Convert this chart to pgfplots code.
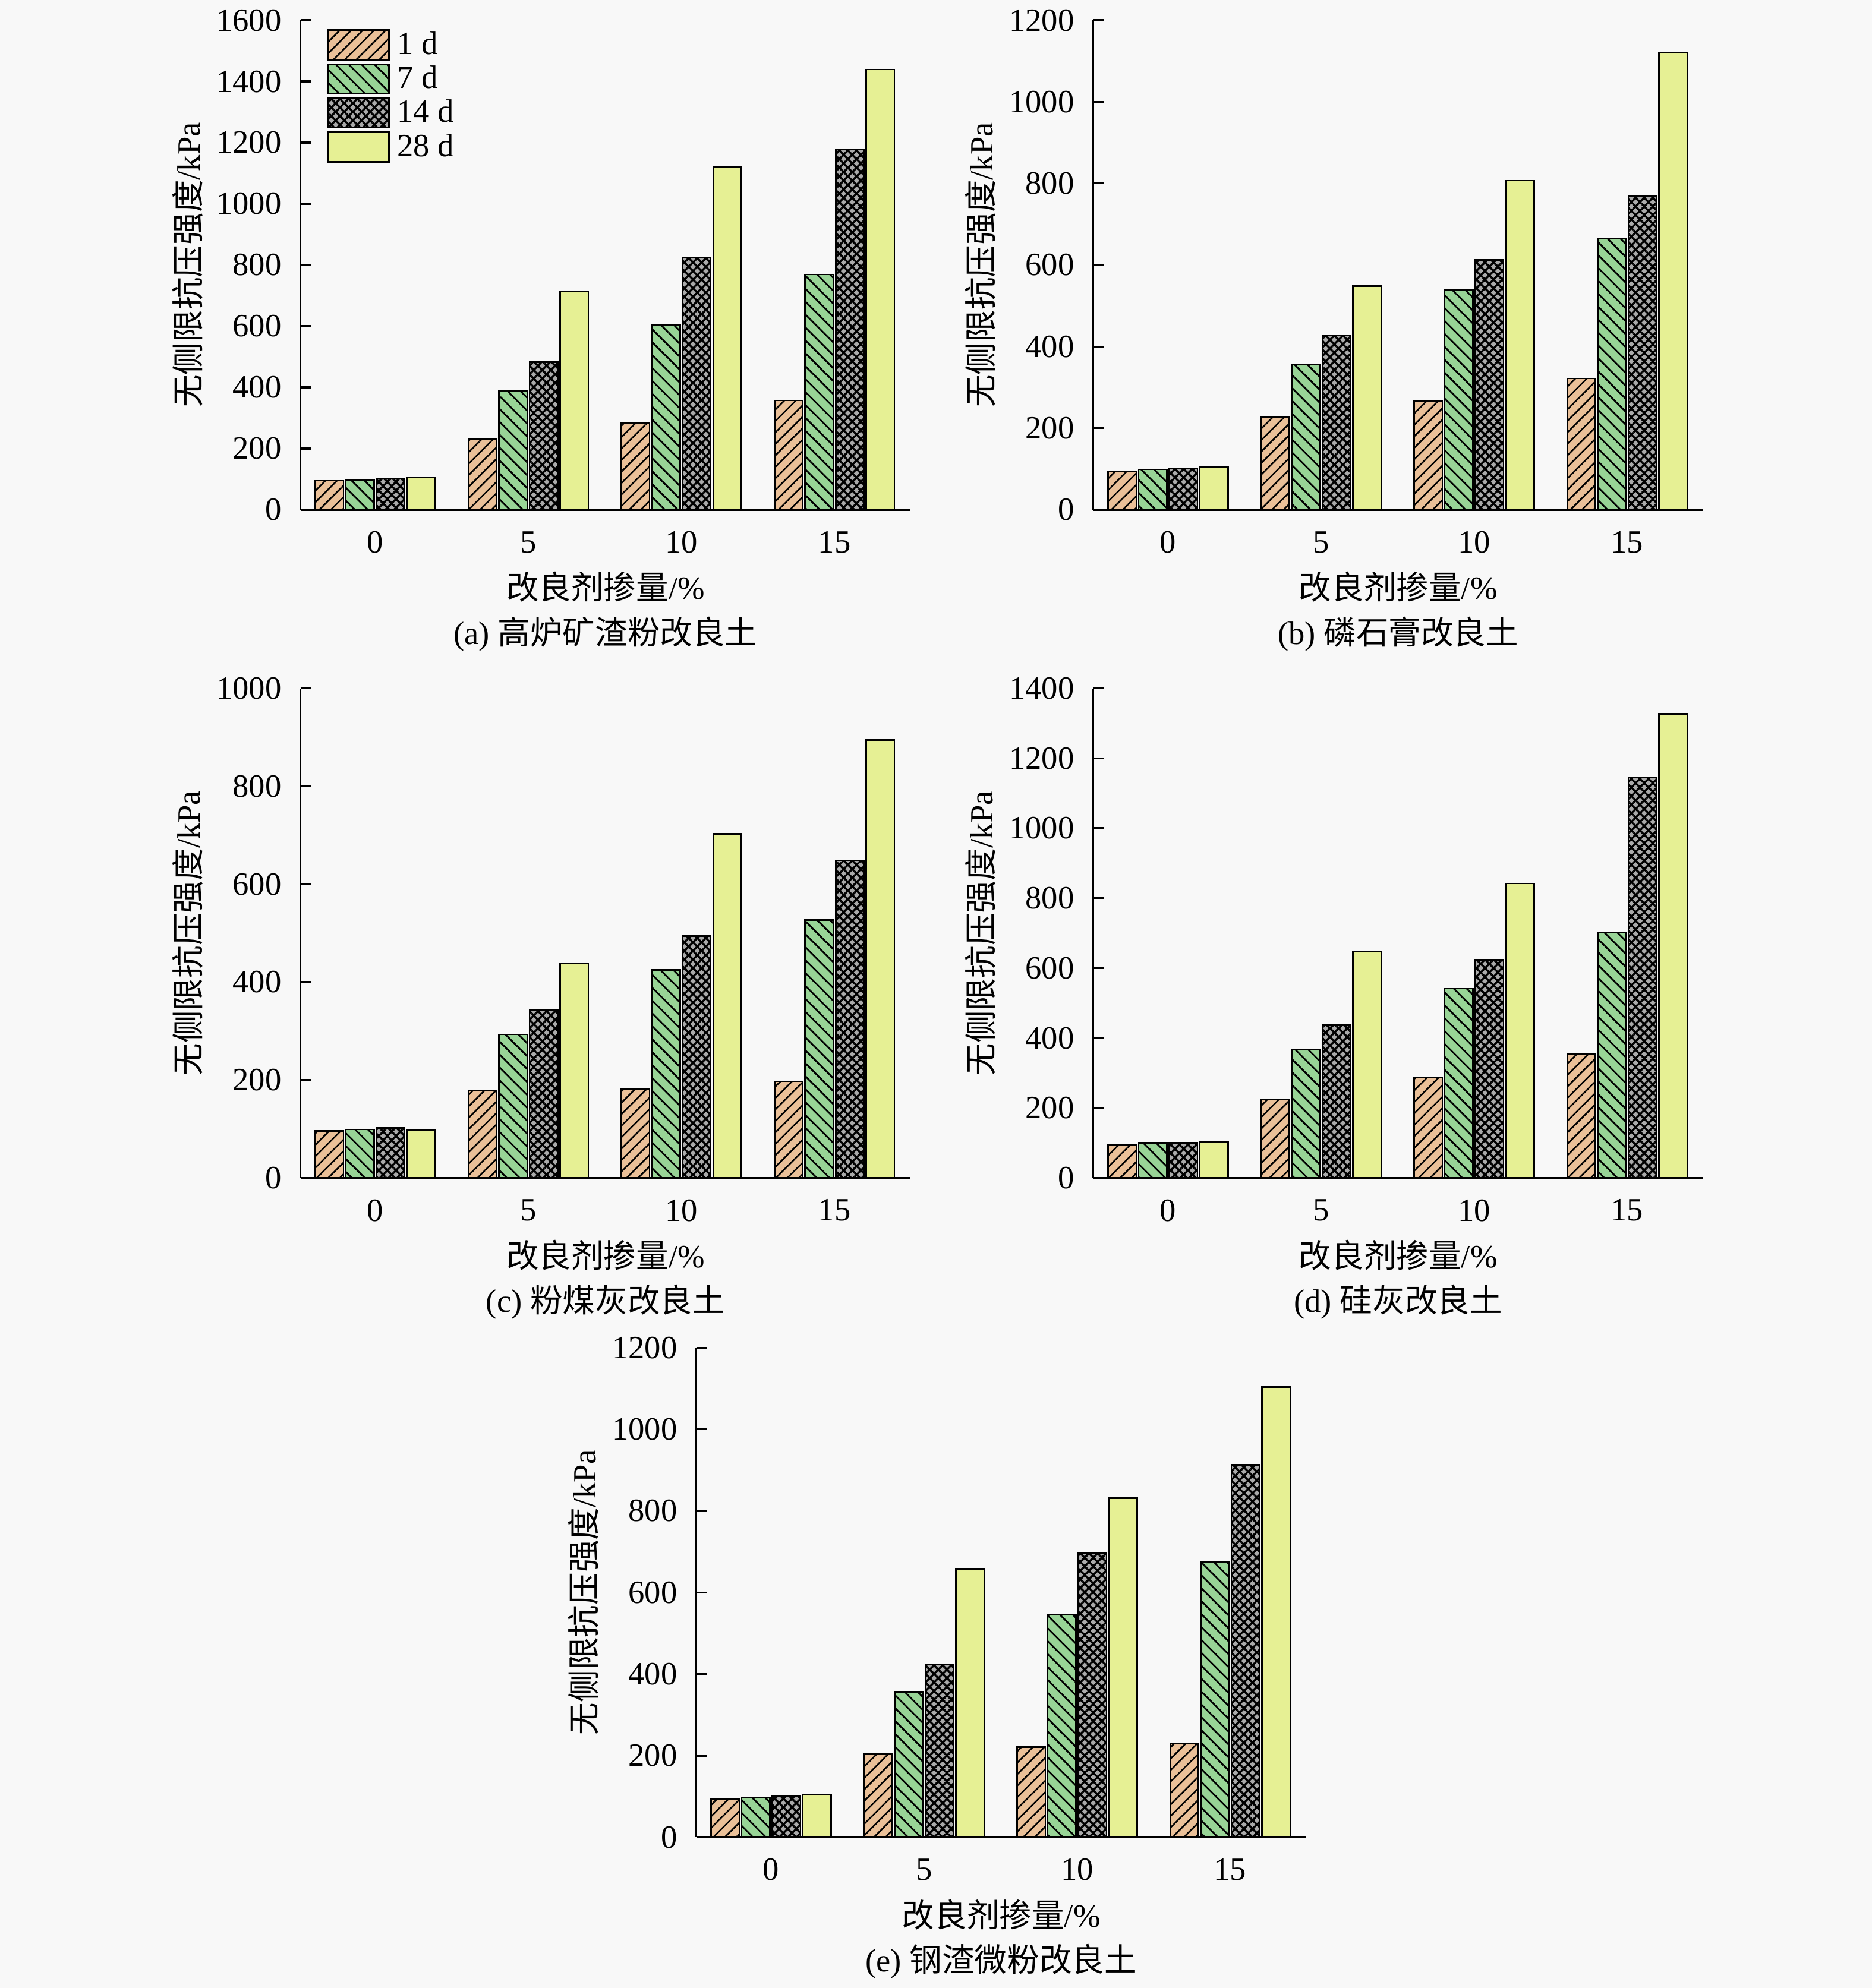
\documentclass[border=0pt]{standalone}
\usepackage{pgfplots}
\pgfplotsset{compat=1.18}
\usepackage{fontspec}
\setmainfont{Liberation Serif}
\newfontfamily\cjk{Noto Sans CJK SC}
\usetikzlibrary{patterns,patterns.meta}
\definecolor{bgc}{RGB}{248,248,248}
\definecolor{ca}{RGB}{234,192,152}
\definecolor{cb}{RGB}{152,212,150}
\definecolor{cc}{RGB}{170,170,170}
\definecolor{cd}{RGB}{230,240,148}
\pgfplotsset{
  sa/.style={draw=black, line width=0.6pt, fill=ca, bar shift=-1.5,
    postaction={pattern={Lines[angle=45,distance=3.2pt,line width=0.6pt]}, pattern color=black}},
  sb/.style={draw=black, line width=0.6pt, fill=cb, bar shift=-0.5,
    postaction={pattern={Lines[angle=-45,distance=3.6pt,line width=0.65pt]}, pattern color=black}},
  sc/.style={draw=black, line width=0.6pt, fill=cc, bar shift=0.5,
    postaction={pattern={Hatch[angle=45,distance=2.4pt,line width=0.8pt]}, pattern color=black}},
  sd/.style={draw=black, line width=0.6pt, fill=cd, bar shift=1.5},
  myax/.style={
    width=240.5pt, height=193pt, scale only axis,
    axis lines*=left,
    axis line style={line width=0.8pt, black},
    xmin=-2.444, xmax=17.485, ymin=0,
    xtick={0,5,10,15},
    x tick style={draw=none},
    tick align=inside,
    major tick length=4pt,
    y tick style={line width=0.8pt, black},
    ytick distance=200,
    scaled y ticks=false,
    /pgf/number format/1000 sep={},
    /pgf/number format/assume math mode=true,
    yticklabel style={xshift=-4pt},
    xticklabel style={yshift=-1pt},
    ybar, bar width=0.92,
    clip=false,
    xlabel={{\cjk 改良剂掺量}/\%},
    xlabel style={at={(axis description cs:0.5,0)}, anchor=center, yshift=-30.5pt},
    ylabel={{\cjk 无侧限抗压强度}/kPa},
    ylabel style={at={(axis description cs:-0.185,0.5)}, anchor=center},
  },
}
\begin{document}
\begin{tikzpicture}[font=\fontsize{12.8}{15}\selectfont]
\fill[bgc] (0,0) rectangle (738pt,-784pt);

% (a)
\begin{axis}[myax, at={(118.5pt,-201pt)}, anchor=south west, ymax=1600,
  legend style={at={(0,1)}, anchor=north west, xshift=10.5pt, yshift=-3.5pt,
    draw=none, fill=none, inner sep=0pt, outer sep=0pt, row sep=1.05pt,
    column sep=2pt,
    font=\fontsize{12.8}{15}\selectfont, legend cell align=left,
    nodes={inner sep=1pt}},
  legend image code/.code={\draw[#1] (0pt,-5.85pt) rectangle (24pt,5.85pt);}]
\addplot[sa] coordinates {(0,95) (5,232) (10,282) (15,357)};
\addplot[sb] coordinates {(0,98) (5,388) (10,605) (15,769)};
\addplot[sc] coordinates {(0,101) (5,482) (10,823) (15,1179)};
\addplot[sd] coordinates {(0,106) (5,713) (10,1120) (15,1439)};
\legend{1 d, 7 d, 14 d, 28 d}
\node at (rel axis cs:0.5,0) [yshift=-49pt] {(a) {\cjk 高炉矿渣粉改良土}};
\end{axis}

% (b)
\begin{axis}[myax, at={(431pt,-201pt)}, anchor=south west, ymax=1200]
\addplot[sa] coordinates {(0,94) (5,227) (10,266) (15,322)};
\addplot[sb] coordinates {(0,99) (5,356) (10,539) (15,665)};
\addplot[sc] coordinates {(0,101) (5,427) (10,612) (15,769)};
\addplot[sd] coordinates {(0,104) (5,548) (10,807) (15,1120)};
\node at (rel axis cs:0.5,0) [yshift=-49pt] {(b) {\cjk 磷石膏改良土}};
\end{axis}

% (c)
\begin{axis}[myax, at={(118.5pt,-464.5pt)}, anchor=south west, ymax=1000]
\addplot[sa] coordinates {(0,96) (5,178) (10,181) (15,197)};
\addplot[sb] coordinates {(0,99) (5,293) (10,425) (15,527)};
\addplot[sc] coordinates {(0,102) (5,343) (10,494) (15,649)};
\addplot[sd] coordinates {(0,98) (5,438) (10,703) (15,895)};
\node at (rel axis cs:0.5,0) [yshift=-49pt] {(c) {\cjk 粉煤灰改良土}};
\end{axis}

% (d)
\begin{axis}[myax, at={(431pt,-464.5pt)}, anchor=south west, ymax=1400]
\addplot[sa] coordinates {(0,95) (5,224) (10,287) (15,353)};
\addplot[sb] coordinates {(0,100) (5,366) (10,541) (15,702)};
\addplot[sc] coordinates {(0,100) (5,437) (10,624) (15,1146)};
\addplot[sd] coordinates {(0,103) (5,647) (10,842) (15,1327)};
\node at (rel axis cs:0.5,0) [yshift=-49pt] {(d) {\cjk 硅灰改良土}};
\end{axis}

% (e)
\begin{axis}[myax, at={(274.5pt,-724.5pt)}, anchor=south west, ymax=1200]
\addplot[sa] coordinates {(0,94) (5,203) (10,221) (15,230)};
\addplot[sb] coordinates {(0,98) (5,356) (10,546) (15,674)};
\addplot[sc] coordinates {(0,100) (5,423) (10,696) (15,913)};
\addplot[sd] coordinates {(0,104) (5,658) (10,831) (15,1104)};
\node at (rel axis cs:0.5,0) [yshift=-49pt] {(e) {\cjk 钢渣微粉改良土}};
\end{axis}
\end{tikzpicture}
\end{document}
